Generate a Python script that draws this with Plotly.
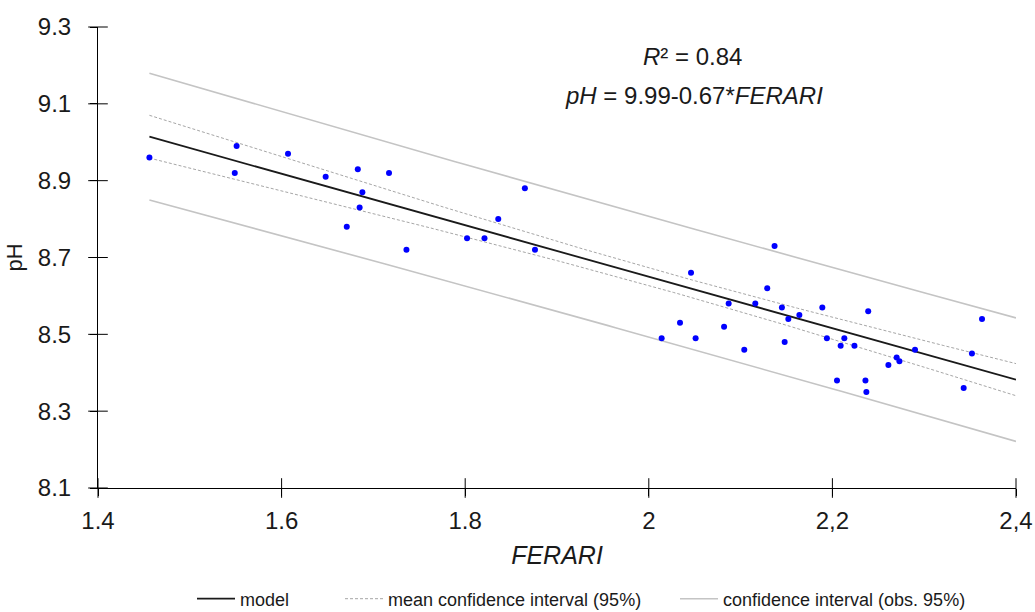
import numpy as np
import plotly.graph_objects as go

# Observations: FERARI index vs. measured pH
ferari = [1.456, 1.551, 1.549, 1.607, 1.648, 1.683, 1.688, 1.685, 1.671, 1.717,
          1.736, 1.802, 1.821, 1.836, 1.865, 1.876, 2.014, 2.034, 2.046, 2.051,
          2.082, 2.087, 2.104, 2.116, 2.129, 2.137, 2.145, 2.148, 2.152, 2.164,
          2.189, 2.194, 2.205, 2.209, 2.213, 2.224, 2.236, 2.237, 2.239, 2.261,
          2.270, 2.273, 2.290, 2.343, 2.352, 2.363]
ph = [8.96, 8.99, 8.92, 8.97, 8.91, 8.93, 8.87, 8.83, 8.78, 8.92,
      8.72, 8.75, 8.75, 8.80, 8.88, 8.72, 8.49, 8.53, 8.66, 8.49,
      8.52, 8.58, 8.46, 8.58, 8.62, 8.73, 8.57, 8.48, 8.54, 8.55,
      8.57, 8.49, 8.38, 8.47, 8.49, 8.47, 8.38, 8.35, 8.56, 8.42,
      8.44, 8.43, 8.46, 8.36, 8.45, 8.54]

# Fitted model as reported on the chart
intercept = 9.99
slope = -0.67
r_squared = 0.84

x_range = [1.4, 2.4]
y_range = [8.1, 9.3]
x_ticks = [1.4, 1.6, 1.8, 2.0, 2.2, 2.4]
x_tick_text = ["1.4", "1.6", "1.8", "2", "2,2", "2,4"]
y_ticks = [8.1, 8.3, 8.5, 8.7, 8.9, 9.1, 9.3]
y_tick_text = ["8.1", "8.3", "8.5", "8.7", "8.9", "9.1", "9.3"]

# 95% confidence bands around the regression line
x = np.array(ferari)
y = np.array(ph)
n = len(x)
resid = y - (intercept + slope * x)
s = np.sqrt(np.sum(resid ** 2) / (n - 2))
x_mean = x.mean()
sxx = np.sum((x - x_mean) ** 2)
T_CRIT = 2.017  # Student t, two-sided 95%, df = n - 2

xg = np.linspace(x.min(), x_range[1], 120)
yg = intercept + slope * xg
se_mean = s * np.sqrt(1.0 / n + (xg - x_mean) ** 2 / sxx)
se_obs = s * np.sqrt(1.0 + 1.0 / n + (xg - x_mean) ** 2 / sxx)

FONT = "Liberation Sans, Arial, sans-serif"
TICK_LEN = 7

fig = go.Figure()

fig.add_trace(go.Scatter(x=xg, y=yg, mode="lines", name="model",
                         line=dict(color="#1a1a1a", width=1.8),
                         legendwidth=95))
fig.add_trace(go.Scatter(x=xg, y=yg + T_CRIT * se_mean, mode="lines",
                         name="mean confidence interval (95%)",
                         legendgroup="mean", legendwidth=282,
                         line=dict(color="#a6a6a6", width=1, dash="3px,2px")))
fig.add_trace(go.Scatter(x=xg, y=yg - T_CRIT * se_mean, mode="lines",
                         name="mean confidence interval (95%)",
                         legendgroup="mean", showlegend=False,
                         line=dict(color="#a6a6a6", width=1, dash="3px,2px")))
fig.add_trace(go.Scatter(x=xg, y=yg + T_CRIT * se_obs, mode="lines",
                         name="confidence interval (obs. 95%)",
                         legendgroup="obs", legendwidth=260,
                         line=dict(color="#c4c4c4", width=1.6)))
fig.add_trace(go.Scatter(x=xg, y=yg - T_CRIT * se_obs, mode="lines",
                         name="confidence interval (obs. 95%)",
                         legendgroup="obs", showlegend=False,
                         line=dict(color="#c4c4c4", width=1.6)))
fig.add_trace(go.Scatter(x=ferari, y=ph, mode="markers", name="pH",
                         showlegend=False,
                         marker=dict(color="#0000ff", size=6)))

# crossing tick marks: short line markers centred on each axis line
fig.add_trace(go.Scatter(x=x_ticks, y=[y_range[0]] * len(x_ticks), mode="markers",
                         showlegend=False, hoverinfo="skip", cliponaxis=False,
                         marker=dict(symbol="line-ns", size=2 * TICK_LEN,
                                     line=dict(color="black", width=1))))
fig.add_trace(go.Scatter(x=[x_range[0]] * len(y_ticks), y=y_ticks, mode="markers",
                         showlegend=False, hoverinfo="skip", cliponaxis=False,
                         marker=dict(symbol="line-ew", size=2 * TICK_LEN,
                                     line=dict(color="black", width=1))))

axis_common = dict(showgrid=False, zeroline=False, ticklen=TICK_LEN, tickwidth=1,
                   tickcolor="black", automargin=False, ticks="outside",
                   showline=True, linecolor="black", linewidth=1,
                   tickfont=dict(family=FONT, size=24, color="#1a1a1a"))

fig.update_layout(
    width=1035, height=612,
    margin=dict(l=98, r=19, t=27, b=124),
    paper_bgcolor="white", plot_bgcolor="white",
    font=dict(family=FONT, color="#1a1a1a"),
    xaxis=dict(range=x_range, tickvals=x_ticks, ticktext=x_tick_text,
               ticklabelstandoff=4,
               title=dict(text="<i>FERARI</i>", font=dict(family=FONT, size=25),
                          standoff=13),
               **axis_common),
    yaxis=dict(range=y_range, tickvals=y_ticks, ticktext=y_tick_text,
               ticklabelstandoff=14,
               title=dict(text="pH", font=dict(family=FONT, size=22),
                          standoff=9),
               **axis_common),
    legend=dict(orientation="h", xref="container", yref="container",
                x=192 / 1035, xanchor="left", y=1 - 599 / 612, yanchor="middle",
                itemwidth=38, font=dict(family=FONT, size=18, color="#1a1a1a"),
                bgcolor="rgba(0,0,0,0)"),
    showlegend=True,
)

fig.add_annotation(x=692, y=56, xref="x domain", yref="y domain",
                   text="<i>R</i>² = 0.84", showarrow=False)
fig.add_annotation(x=694, y=95, xref="x domain", yref="y domain",
                   text="<i>pH</i> = 9.99-0.67*<i>FERARI</i>", showarrow=False)

# place the two equation lines in pixel terms of the plotting area
for ann in fig.layout.annotations:
    px, py = ann.x, ann.y
    ann.x = (px - 98) / 918
    ann.y = 1 - (py - 27) / 461
    ann.xanchor = "center"
    ann.yanchor = "middle"
    ann.font = dict(family=FONT, size=24, color="#1a1a1a")

fig.write_html("out.html")
